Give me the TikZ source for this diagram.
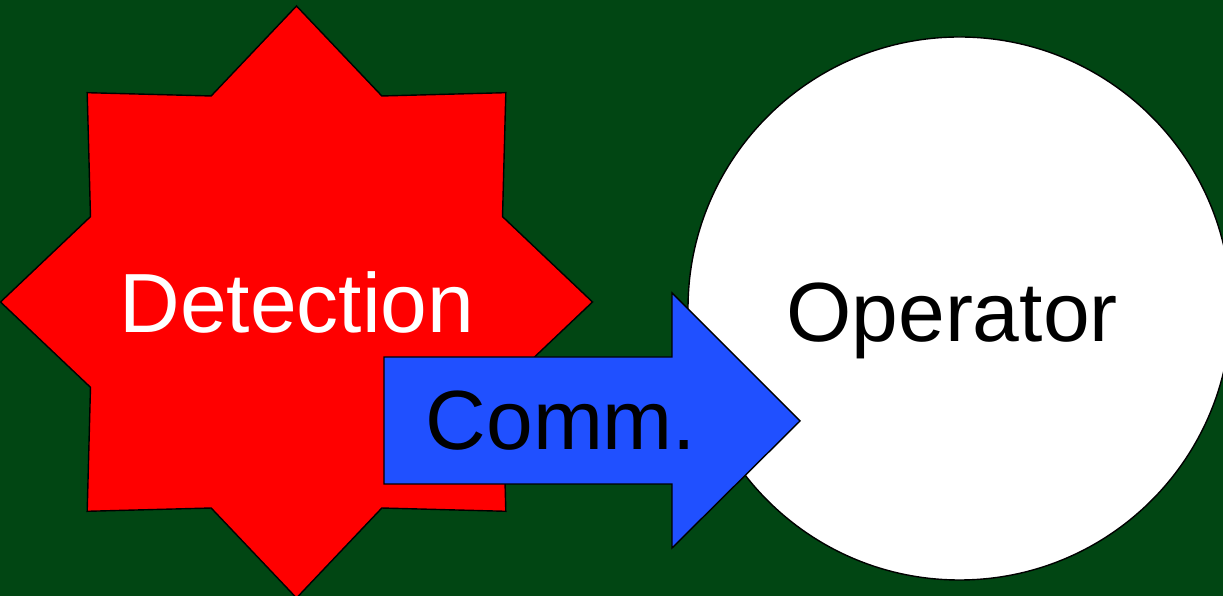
\documentclass[tikz,border=0pt]{standalone}
\usepackage{fontspec}
\setmainfont{Liberation Sans}
\definecolor{bggreen}{RGB}{1,70,19}
\definecolor{starred}{RGB}{255,0,0}
\definecolor{arrowblue}{RGB}{32,80,255}
\tikzset{
  outline/.style={draw=black,line width=1.4pt,line join=miter},
  bigtext/.style={font=\fontsize{84}{100}\selectfont,anchor=base,inner sep=0pt},
}
\begin{document}
\begin{tikzpicture}[x=1pt,y=1pt]
\fill[bggreen] (0,0) rectangle (1223,596);
\useasboundingbox (0,0) rectangle (1223,596);
% star
\coordinate (sc) at (296.5,294);
\draw[outline,fill=starred,shift={(sc)}]
  (90:296) -- (112.5:223) -- (135:296) -- (157.5:223) -- (180:296) -- (202.5:223)
  -- (225:296) -- (247.5:223) -- (270:296) -- (292.5:223) -- (315:296) -- (337.5:223)
  -- (0:296) -- (22.5:223) -- (45:296) -- (67.5:223) -- cycle;
\node[bigtext,text=white] (det) at (297,263) {Detection};
% circle
\node[circle,outline,fill=white,minimum size=543pt,inner sep=0pt] (opc) at (959.5,287.5) {};
\node[bigtext,text=black] (op) at (952,254) {Operator};
% arrow
\coordinate (a1) at (384,239);
\coordinate (a2) at (672,239);
\coordinate (a3) at (672,303);
\coordinate (tip) at (800,175);
\coordinate (a5) at (672,48);
\coordinate (a6) at (672,112);
\coordinate (a7) at (384,112);
\draw[outline,fill=arrowblue] (a1) -- (a2) -- (a3) -- (tip) -- (a5) -- (a6) -- (a7) -- cycle;
\node[bigtext,text=black] (comm) at (561,146) {Comm.};
\end{tikzpicture}
\end{document}
